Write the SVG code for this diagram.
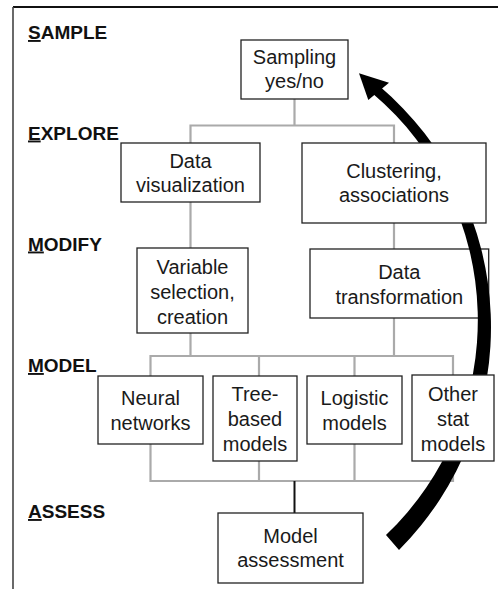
<svg xmlns="http://www.w3.org/2000/svg" width="498" height="589" viewBox="0 0 498 589">
<style>
.box{fill:#fff;stroke:#222;stroke-width:1.3}
.t{font-family:"Liberation Sans",Arial,sans-serif;font-size:20px;fill:#1a1a1a;text-anchor:middle}
.lab{font-family:"Liberation Sans",Arial,sans-serif;font-size:19px;font-weight:bold;fill:#111}
.u{text-decoration:underline}
.g{fill:none;stroke:#aaa;stroke-width:2.2}
</style>
<rect width="498" height="589" fill="#fff"/>
<g id="frame">
<line x1="13" y1="7" x2="498" y2="7" stroke="#111" stroke-width="2"/>
<line x1="13" y1="7" x2="13" y2="589" stroke="#444" stroke-width="1.6"/>
</g>
<g id="stage-labels">
<text class="lab" x="28" y="39"><tspan class="u">S</tspan>AMPLE</text>
<text class="lab" x="28" y="139.5"><tspan class="u">E</tspan>XPLORE</text>
<text class="lab" x="28" y="250.5"><tspan class="u">M</tspan>ODIFY</text>
<text class="lab" x="28" y="372"><tspan class="u">M</tspan>ODEL</text>
<text class="lab" x="28" y="518"><tspan class="u">A</tspan>SSESS</text>
</g>
<g id="connectors">
<path class="g" d="M294.5 99V125.5M190.5 143V125.5H394V143M190.5 202V248M394 223V249M190.5 333V356M394 318V356M150.5 376V356H453V375M259 356V376M354.5 356V376M150.5 444V481H453V461M259 461V481M354.5 444V481"/>
<path d="M294.5 481V513" stroke="#111" stroke-width="2" fill="none"/>
</g>
<g id="sampling"><rect class="box" x="241" y="40" width="107" height="59"/><text class="t" x="294.5" y="64">Sampling</text><text class="t" x="294.5" y="88">yes/no</text></g>
<g id="data-visualization"><rect class="box" x="121" y="143" width="139" height="59"/><text class="t" x="190.5" y="167.5">Data</text><text class="t" x="190.5" y="192">visualization</text></g>
<g id="variable-selection"><rect class="box" x="137" y="248" width="111" height="85"/><text class="t" x="192.5" y="273.5">Variable</text><text class="t" x="192.5" y="298.5">selection,</text><text class="t" x="192.5" y="323.5">creation</text></g>
<g id="data-transformation"><rect class="box" x="310" y="249" width="178.7" height="69"/><text class="t" x="399.3" y="278.5">Data</text><text class="t" x="399.3" y="303.5">transformation</text></g>
<g id="neural-networks"><rect class="box" x="98" y="376" width="105" height="68"/><text class="t" x="150.5" y="405">Neural</text><text class="t" x="150.5" y="430">networks</text></g>
<g id="tree-based"><rect class="box" x="213" y="376" width="84" height="85"/><text class="t" x="255" y="401">Tree-</text><text class="t" x="255" y="426">based</text><text class="t" x="255" y="451">models</text></g>
<g id="logistic"><rect class="box" x="307" y="376" width="95" height="68"/><text class="t" x="354.5" y="405">Logistic</text><text class="t" x="354.5" y="430">models</text></g>
<g id="model-assessment"><rect class="box" x="218" y="513" width="145" height="70"/><text class="t" x="290.5" y="542.5">Model</text><text class="t" x="290.5" y="567">assessment</text></g>
<g id="cycle-arrow">
<path d="M399 550A316 316 0 0 0 379.6 86.3L373.2 94A297 297 0 0 1 386 535Z" fill="#000"/>
<polygon points="359,73.3 368.3,100 389,82.7" fill="#000"/>
</g>
<g id="clustering"><rect class="box" x="302" y="143" width="184" height="80"/><text class="t" x="394" y="177.5">Clustering,</text><text class="t" x="394" y="202">associations</text></g>
<g id="other-stat"><rect class="box" x="412" y="375" width="82" height="86"/><text class="t" x="453" y="401">Other</text><text class="t" x="453" y="426">stat</text><text class="t" x="453" y="451">models</text></g>
</svg>
